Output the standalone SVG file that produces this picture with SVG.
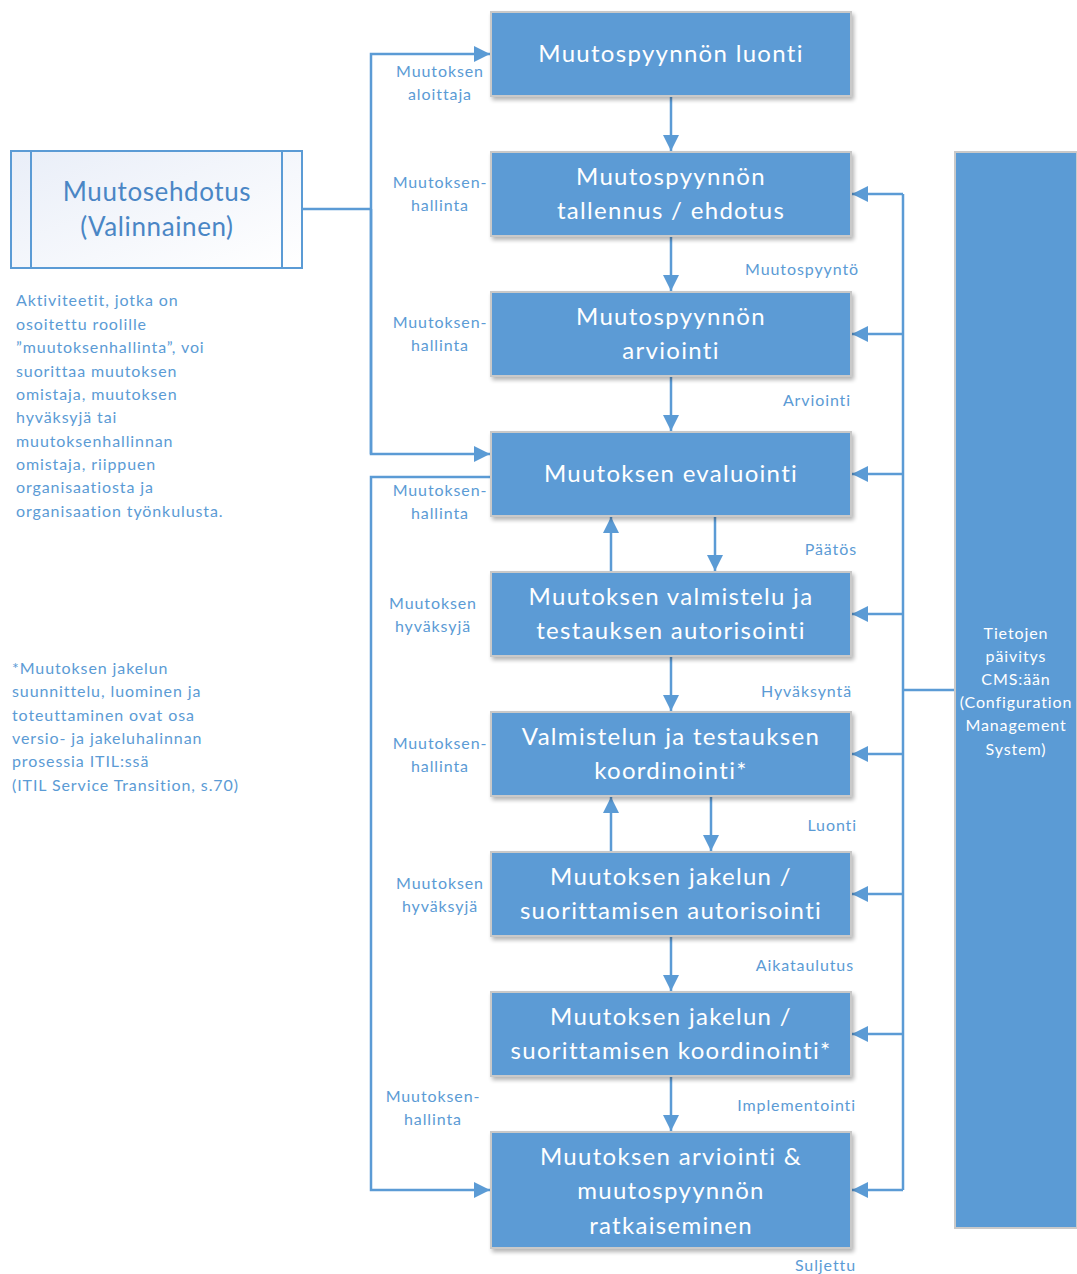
<svg xmlns="http://www.w3.org/2000/svg" width="1077" height="1274" viewBox="0 0 1077 1274">
<defs>
<marker id="ah" viewBox="0 0 10 10" refX="10" refY="5" markerWidth="16" markerHeight="16" markerUnits="userSpaceOnUse" orient="auto">
<path d="M0,0 L10,5 L0,10 z" fill="#5B9BD5"/>
</marker>
<linearGradient id="lg" x1="0" y1="0" x2="1" y2="1">
<stop offset="0" stop-color="#E9EEF8"/>
<stop offset="1" stop-color="#FFFFFF"/>
</linearGradient>
<filter id="sh" x="-5%" y="-5%" width="112%" height="120%">
<feGaussianBlur in="SourceAlpha" stdDeviation="2"/>
<feOffset dx="2" dy="3" result="b"/>
<feComponentTransfer><feFuncA type="linear" slope="0.3"/></feComponentTransfer>
<feMerge><feMergeNode/><feMergeNode in="SourceGraphic"/></feMerge>
</filter>
</defs>
<style>
.box{fill:#5B9BD5;stroke:#C9C9C9;stroke-width:2;}
.bt{font-family:Lato,"Liberation Sans",sans-serif;font-size:24px;fill:#FFFFFF;text-anchor:middle;letter-spacing:1.3px;}
.lb{font-family:Lato,"Liberation Sans",sans-serif;font-size:16px;fill:#5B9BD5;letter-spacing:0.9px;}
.c{text-anchor:middle;}
.r{text-anchor:end;}
.ln{fill:none;stroke:#5B9BD5;stroke-width:2.5;}
.ar{marker-end:url(#ah);}
.wt{font-family:Lato,"Liberation Sans",sans-serif;font-size:16px;fill:#FFFFFF;text-anchor:middle;letter-spacing:0.9px;}
.pt{font-family:Lato,"Liberation Sans",sans-serif;font-size:26px;fill:#4A86C5;text-anchor:middle;letter-spacing:0.6px;}
</style>
<rect width="1077" height="1274" fill="#FFFFFF"/>

<g id="connectors">
<path class="ln" d="M302,209 H371"/>
<path class="ln ar" d="M371,454 V54 H490"/>
<path class="ln ar" d="M371,209 V454 H490"/>
<path class="ln ar" d="M491,477 H371 V1190 H490"/>
<path class="ln ar" d="M671,96 V151"/>
<path class="ln ar" d="M671,236 V291"/>
<path class="ln ar" d="M671,376 V431"/>
<path class="ln ar" d="M611,572 V517"/>
<path class="ln ar" d="M715,516 V571"/>
<path class="ln ar" d="M671,656 V711"/>
<path class="ln ar" d="M611,852 V797"/>
<path class="ln ar" d="M711,796 V851"/>
<path class="ln ar" d="M671,936 V991"/>
<path class="ln ar" d="M671,1076 V1131"/>
<path class="ln" d="M903,194 V1190"/>
<path class="ln" d="M903,690 H955"/>
<path class="ln ar" d="M903,194 H852"/>
<path class="ln ar" d="M903,334 H852"/>
<path class="ln ar" d="M903,474 H852"/>
<path class="ln ar" d="M903,614 H852"/>
<path class="ln ar" d="M903,754 H852"/>
<path class="ln ar" d="M903,894 H852"/>
<path class="ln ar" d="M903,1034 H852"/>
<path class="ln ar" d="M903,1190 H852"/>
</g>

<g id="labels">
<text class="lb c" x="440" y="77">Muutoksen</text>
<text class="lb c" x="440" y="100">aloittaja</text>
<text class="lb c" x="440" y="188">Muutoksen-</text>
<text class="lb c" x="440" y="211">hallinta</text>
<text class="lb c" x="440" y="328">Muutoksen-</text>
<text class="lb c" x="440" y="351">hallinta</text>
<text class="lb c" x="440" y="496">Muutoksen-</text>
<text class="lb c" x="440" y="519">hallinta</text>
<text class="lb c" x="433" y="609">Muutoksen</text>
<text class="lb c" x="433" y="632">hyväksyjä</text>
<text class="lb c" x="440" y="749">Muutoksen-</text>
<text class="lb c" x="440" y="772">hallinta</text>
<text class="lb c" x="440" y="889">Muutoksen</text>
<text class="lb c" x="440" y="912">hyväksyjä</text>
<text class="lb c" x="433" y="1102">Muutoksen-</text>
<text class="lb c" x="433" y="1125">hallinta</text>
<text class="lb r" x="859" y="275">Muutospyyntö</text>
<text class="lb r" x="851" y="406">Arviointi</text>
<text class="lb r" x="857" y="555">Päätös</text>
<text class="lb r" x="852" y="697">Hyväksyntä</text>
<text class="lb r" x="857" y="831">Luonti</text>
<text class="lb r" x="854" y="971">Aikataulutus</text>
<text class="lb r" x="856" y="1111">Implementointi</text>
<text class="lb r" x="856" y="1271">Suljettu</text>
</g>

<g id="n1"><rect class="box" filter="url(#sh)" x="491" y="12" width="360" height="84"/><text class="bt" x="671" y="62">Muutospyynnön luonti</text></g>
<g id="n2"><rect class="box" filter="url(#sh)" x="491" y="152" width="360" height="84"/><text class="bt" x="671" y="185">Muutospyynnön</text><text class="bt" x="671" y="219">tallennus / ehdotus</text></g>
<g id="n3"><rect class="box" filter="url(#sh)" x="491" y="292" width="360" height="84"/><text class="bt" x="671" y="325">Muutospyynnön</text><text class="bt" x="671" y="359">arviointi</text></g>
<g id="n4"><rect class="box" filter="url(#sh)" x="491" y="432" width="360" height="84"/><text class="bt" x="671" y="482">Muutoksen evaluointi</text></g>
<g id="n5"><rect class="box" filter="url(#sh)" x="491" y="572" width="360" height="84"/><text class="bt" x="671" y="605">Muutoksen valmistelu ja</text><text class="bt" x="671" y="639">testauksen autorisointi</text></g>
<g id="n6"><rect class="box" filter="url(#sh)" x="491" y="712" width="360" height="84"/><text class="bt" x="671" y="745">Valmistelun ja testauksen</text><text class="bt" x="671" y="779">koordinointi*</text></g>
<g id="n7"><rect class="box" filter="url(#sh)" x="491" y="852" width="360" height="84"/><text class="bt" x="671" y="885">Muutoksen jakelun /</text><text class="bt" x="671" y="919">suorittamisen autorisointi</text></g>
<g id="n8"><rect class="box" filter="url(#sh)" x="491" y="992" width="360" height="84"/><text class="bt" x="671" y="1025">Muutoksen jakelun /</text><text class="bt" x="671" y="1059">suorittamisen koordinointi*</text></g>
<g id="n9"><rect class="box" filter="url(#sh)" x="491" y="1132" width="360" height="116"/><text class="bt" x="671" y="1165">Muutoksen arviointi &amp;</text><text class="bt" x="671" y="1199">muutospyynnön</text><text class="bt" x="671" y="1234">ratkaiseminen</text></g>

<g id="cms"><rect x="955" y="152" width="122" height="1076" fill="#5B9BD5" stroke="#C9C9C9" stroke-width="2"/>
<text class="wt" x="1016" y="639">Tietojen</text>
<text class="wt" x="1016" y="662">päivitys</text>
<text class="wt" x="1016" y="685">CMS:ään</text>
<text class="wt" x="1016" y="708">(Configuration</text>
<text class="wt" x="1016" y="731">Management</text>
<text class="wt" x="1016" y="755">System)</text>
</g>

<g id="proposal"><rect x="11" y="151" width="291" height="117" fill="url(#lg)" stroke="#5B9BD5" stroke-width="2"/>
<line x1="31" y1="151" x2="31" y2="268" stroke="#5B9BD5" stroke-width="2"/>
<line x1="282" y1="151" x2="282" y2="268" stroke="#5B9BD5" stroke-width="2"/>
<text class="pt" x="157" y="201">Muutosehdotus</text>
<text class="pt" x="157" y="236">(Valinnainen)</text>
</g>

<g id="note1">
<text class="lb" x="16" y="306">Aktiviteetit, jotka on</text>
<text class="lb" x="16" y="330">osoitettu roolille</text>
<text class="lb" x="16" y="353">”muutoksenhallinta”, voi</text>
<text class="lb" x="16" y="377">suorittaa muutoksen</text>
<text class="lb" x="16" y="400">omistaja, muutoksen</text>
<text class="lb" x="16" y="423">hyväksyjä tai</text>
<text class="lb" x="16" y="447">muutoksenhallinnan</text>
<text class="lb" x="16" y="470">omistaja, riippuen</text>
<text class="lb" x="16" y="493">organisaatiosta ja</text>
<text class="lb" x="16" y="517">organisaation työnkulusta.</text>
</g>
<g id="note2">
<text class="lb" x="12" y="674">*Muutoksen jakelun</text>
<text class="lb" x="12" y="697">suunnittelu, luominen ja</text>
<text class="lb" x="12" y="721">toteuttaminen ovat osa</text>
<text class="lb" x="12" y="744">versio- ja jakeluhalinnan</text>
<text class="lb" x="12" y="767">prosessia ITIL:ssä</text>
<text class="lb" x="12" y="791">(ITIL Service Transition, s.70)</text>
</g>
</svg>
